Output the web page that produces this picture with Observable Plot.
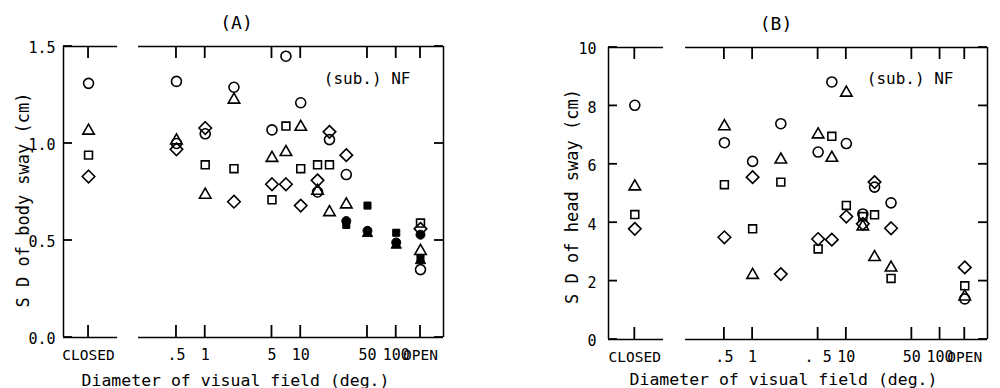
<!DOCTYPE html>
<html><head><meta charset="utf-8">
<script src="https://cdn.jsdelivr.net/npm/d3@7"></script>
<script src="https://cdn.jsdelivr.net/npm/@observablehq/plot@0.6"></script>
<style>
html,body{margin:0;padding:0;background:#fff;}
#wrap{display:flex;width:1000px;height:388px;}
#wrap svg{display:block;}
</style></head><body><div id="wrap"></div>
<script>
// ---------------- data ----------------
const fieldTicks = ["CLOSED", 0.5, 1, 5, 10, 50, 100, "OPEN"];
const fieldTickLabelsA = ["CLOSED", ".5", "1", "5", "10", "50", "100", "OPEN"];
const fieldTickLabelsB = ["CLOSED", ".5", "1", ". 5", "10", "50", "100", "OPEN"];
const bodyTicks = [0, 0.5, 1.0, 1.5];
const headTicks = [0, 2, 4, 6, 8, 10];

// Panel A : SD of body sway (cm)
const bodyCircleX   = ["CLOSED", 0.5, 0.5, 1, 2, 5, 7, 10, 15, 20, 30, "OPEN"];
const bodyCircleY   = [1.31, 1.32, 1.00, 1.05, 1.29, 1.07, 1.45, 1.21, 0.75, 1.02, 0.84, 0.35];
const bodyTriangleX = ["CLOSED", 0.5, 1, 2, 5, 7, 10, 15, 20, 30, "OPEN"];
const bodyTriangleY = [1.07, 1.02, 0.74, 1.23, 0.93, 0.96, 1.09, 0.76, 0.65, 0.69, 0.45];
const bodySquareX   = ["CLOSED", 1, 2, 5, 7, 10, 15, 20, "OPEN"];
const bodySquareY   = [0.94, 0.89, 0.87, 0.71, 1.09, 0.87, 0.89, 0.89, 0.59];
const bodyDiamondX  = ["CLOSED", 0.5, 1, 2, 5, 7, 10, 15, 20, 30, "OPEN"];
const bodyDiamondY  = [0.83, 0.97, 1.08, 0.70, 0.79, 0.79, 0.68, 0.81, 1.06, 0.94, 0.56];
const bodyFilledCircleX   = [30, 50, 100, "OPEN"];
const bodyFilledCircleY   = [0.60, 0.55, 0.49, 0.53];
const bodyFilledSquareX   = [30, 50, 100, "OPEN"];
const bodyFilledSquareY   = [0.58, 0.68, 0.54, 0.41];
const bodyFilledTriangleX = [50, 100, "OPEN"];
const bodyFilledTriangleY = [0.54, 0.48, 0.40];

// Panel B : SD of head sway (cm)
const headX         = ["CLOSED", 0.5, 1, 2, 5, 7, 10, 15, 20, 30, "OPEN"];
const headCircleY   = [8.02, 6.74, 6.10, 7.39, 6.42, 8.82, 6.71, 4.30, 5.22, 4.68, 1.39];
const headTriangleY = [5.27, 7.33, 2.24, 6.19, 7.05, 6.25, 8.48, 3.90, 2.85, 2.49, 1.50];
const headSquareY   = [4.28, 5.30, 3.79, 5.39, 3.10, 6.96, 4.59, 4.21, 4.27, 2.09, 1.84];
const headDiamondY  = [3.79, 3.50, 5.56, 2.24, 3.44, 3.42, 4.21, 3.96, 5.39, 3.81, 2.47];

// series keys (deliberately not Plot symbol names, so the symbol scale is used)
const SERIES = ["circles", "triangles", "squares", "diamonds"];
const rows = (xs, ys, series) => xs.map((x, i) => ({field: x, value: ys[i], series}));

const bodyOpen = [
  ...rows(bodyCircleX, bodyCircleY, "circles"),
  ...rows(bodyTriangleX, bodyTriangleY, "triangles"),
  ...rows(bodySquareX, bodySquareY, "squares"),
  ...rows(bodyDiamondX, bodyDiamondY, "diamonds")
];
const bodyFilled = [
  ...rows(bodyFilledCircleX, bodyFilledCircleY, "circles"),
  ...rows(bodyFilledSquareX, bodyFilledSquareY, "squares"),
  ...rows(bodyFilledTriangleX, bodyFilledTriangleY, "triangles")
];
const headOpen = [
  ...rows(headX, headCircleY, "circles"),
  ...rows(headX, headTriangleY, "triangles"),
  ...rows(headX, headSquareY, "squares"),
  ...rows(headX, headDiamondY, "diamonds")
];

const FONT = "'DejaVu Sans Mono', monospace";

// ---- symbols ----
const squareDiamond = {   // rotated square, equal width and height
  draw(ctx, size) {
    const r = Math.sqrt(size / 2);
    ctx.moveTo(0, -r); ctx.lineTo(r, 0); ctx.lineTo(0, r); ctx.lineTo(-r, 0); ctx.closePath();
  }
};
const openTriangle = {    // upright triangle, ~2.3r wide, 2r tall
  draw(ctx, size) {
    const r = Math.sqrt(size / Math.PI);
    ctx.moveTo(0, -1.15 * r); ctx.lineTo(1.15 * r, 0.85 * r); ctx.lineTo(-1.15 * r, 0.85 * r); ctx.closePath();
  }
};

function panel(c) {
  const pos = f => f === "CLOSED" ? c.closedAt : f === "OPEN" ? c.openAt : f;
  const xTickData = fieldTicks.map((f, i) => ({field: f, label: c.tickLabels[i]}));
  const isWord = d => typeof d.field === "string";
  const [x0, x1] = c.xDomain, [y0, y1] = c.yDomain;
  const lw = 1.5;
  const line = {stroke: "black", strokeWidth: lw};
  const chart = Plot.plot({
    width: 500, height: 388, ...c.margins,
    x: {type: "log", domain: c.xDomain, label: null, axis: null},
    y: {domain: c.yDomain, label: null, axis: null},
    symbol: {domain: SERIES, range: [d3.symbolCircle, openTriangle, d3.symbolSquare2, squareDiamond]},
    style: {fontFamily: FONT, fontSize: "14px", color: "black", background: "white"},
    marks: [
      // broken frame
      Plot.ruleX([x0], line),
      Plot.ruleX([x1], line),
      Plot.ruleY([y0, y1], {x1: x0, x2: c.breakAt[0], ...line}),
      Plot.ruleY([y0, y1], {x1: c.breakAt[1], x2: x1, ...line}),
      // tick labels
      Plot.text(xTickData.filter(isWord), {x: d => pos(d.field), text: "label", frameAnchor: "bottom", dy: 12, lineAnchor: "top", fontSize: 14.5}),
      Plot.text(xTickData.filter(d => !isWord(d)), {x: d => pos(d.field), text: "label", frameAnchor: "bottom", dy: 12, lineAnchor: "top", fontSize: 15, ariaLabel: "narrow"}),
      Plot.text(c.yTicks, {y: d => d, text: c.yFmt, frameAnchor: "left", dx: -c.yTickPadding, dy: 2, textAnchor: "end", lineAnchor: "middle", fontSize: 15, ariaLabel: "narrow"}),
      // data
      Plot.dot(c.open, {x: d => pos(d.field), y: "value", symbol: "series", r: 5, stroke: "black", strokeWidth: 1.6, fill: "none"}),
      Plot.dot(c.filled, {x: d => pos(d.field), y: "value", symbol: "series", r: 4.5, stroke: "black", strokeWidth: 1, fill: "black"}),
      // texts
      Plot.text([c.title], {text: d => d, frameAnchor: "top", textAnchor: "middle", dx: c.titleDx, dy: -18, lineAnchor: "bottom", fontSize: 18}),
      Plot.text(["(sub.) NF"], {text: d => d, frameAnchor: "top-right", textAnchor: "end", dx: c.noteDx, dy: c.noteDy, lineAnchor: "bottom", fontSize: 16}),
      Plot.text([c.yLabel], {text: d => d, frameAnchor: "left", textAnchor: "middle", rotate: -90, dx: c.yLabelDx, dy: c.yLabelDy, lineAnchor: "bottom", fontSize: 17}),
      Plot.text(["Diameter of visual field (deg.)"], {text: d => d, frameAnchor: "bottom", textAnchor: "middle", dx: c.xLabelDx, dy: c.xLabelDy, lineAnchor: "bottom", fontSize: 16.5})
    ]
  });

  // inward ticks, positioned with the chart's own x and y scales
  const sx = chart.scale("x"), sy = chart.scale("y");
  const px0 = sx.apply(x0), px1 = sx.apply(x1), py0 = sy.apply(y0), py1 = sy.apply(y1);
  const g = d3.select(chart).append("g").attr("class", "inward-ticks")
    .attr("stroke", "black").attr("stroke-width", 1.8).attr("fill", "none");
  for (const f of fieldTicks) {
    const px = sx.apply(pos(f));
    g.append("line").attr("x1", px).attr("x2", px).attr("y1", py0).attr("y2", py0 - 12);
    g.append("line").attr("x1", px).attr("x2", px).attr("y1", py1).attr("y2", py1 + 12);
  }
  for (const v of c.yTicks) {
    const py = sy.apply(v);
    g.append("line").attr("x1", px0).attr("x2", px0 + 9).attr("y1", py).attr("y2", py);
    g.append("line").attr("x1", px1).attr("x2", px1 - 9).attr("y1", py).attr("y2", py);
  }
  return chart;
}

// narrow the numeric tick labels (tall, condensed plotter digits)
function narrow(svg, k) {
  d3.select(svg).selectAll('g[aria-label="narrow"] text').each(function () {
    const t = this.getAttribute("transform") || "";
    this.setAttribute("transform", t + ` scale(${k},1)`);
  });
  return svg;
}

const chartA = panel({
  open: bodyOpen, filled: bodyFilled,
  yDomain: [0, 1.5], yTicks: bodyTicks, yFmt: d3.format(".1f"), yTickPadding: 8,
  tickLabels: fieldTickLabelsA,
  closedAt: 0.06, openAt: 179.5,
  xDomain: [0.03281, 312.6], breakAt: [0.1208, 0.2004],
  margins: {marginLeft: 63, marginRight: 57, marginTop: 46, marginBottom: 51},
  title: "(A)", titleDx: -17,
  noteDx: -33, noteDy: 37,
  yLabel: "S D of body sway (cm)", yLabelDx: -35, yLabelDy: 8,
  xLabelDx: -18, xLabelDy: 48
});
const chartB = panel({
  open: headOpen, filled: [],
  yDomain: [0, 10], yTicks: headTicks, yFmt: d3.format("d"), yTickPadding: 12,
  tickLabels: fieldTickLabelsB,
  closedAt: 0.05535, openAt: 183.5,
  xDomain: [0.02900, 320.7], breakAt: [0.1121, 0.1926],
  margins: {marginLeft: 108, marginRight: 13, marginTop: 47, marginBottom: 49},
  title: "(B)", titleDx: -22,
  noteDx: -34, noteDy: 36,
  yLabel: "S D of head sway (cm)", yLabelDx: -31, yLabelDy: 3,
  xLabelDx: -14.5, xLabelDy: 45
});
document.getElementById("wrap").append(narrow(chartA, 0.74), narrow(chartB, 0.74));
</script>
</body></html>
